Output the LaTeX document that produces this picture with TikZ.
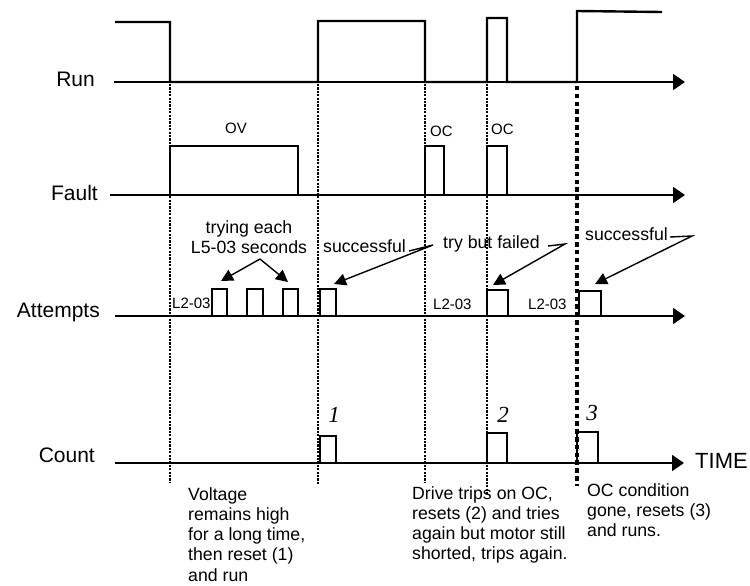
\documentclass[tikz,border=0pt]{standalone}
\usepackage{fontspec}
\setmainfont{Liberation Sans}
\newfontfamily\numfont{Liberation Serif}
\usetikzlibrary{arrows.meta}
\tikzset{
  sig/.style={line width=2.4pt, line join=miter},
  axisline/.style={line width=1.9pt, -{Triangle[length=12pt,width=16pt]}},
  guide/.style={line width=2.4pt, dash pattern=on 2.2pt off 1.2pt},
  guidethick/.style={line width=4.8pt, dash pattern=on 4.5pt off 3.3pt},
  note/.style={line width=1.4pt, line join=miter, -{Triangle[length=12pt,width=12pt]}},
  lbl/.style={font=\fontsize{21}{21}\selectfont, inner sep=0pt},
  tag/.style={font=\fontsize{15}{15}\selectfont, inner sep=0pt},
  txt/.style={font=\fontsize{17.7}{20.3}\selectfont, inner sep=0pt, align=left},
  num/.style={font=\numfont\itshape\fontsize{23}{23}\selectfont, inner sep=0pt},
}
\begin{document}
\begin{tikzpicture}[x=1pt,y=-1pt]
\useasboundingbox (0,0) rectangle (750,586);

% ---- labels
\node[lbl, anchor=base east] (runL) at (95,87) {Run};
\node[lbl, anchor=base east] (faultL) at (98,200) {Fault};
\node[lbl, anchor=base east] (attL) at (100,317) {Attempts};
\node[lbl, anchor=base east] (countL) at (95,462) {Count};

% ---- axes
\coordinate (runS) at (114,82);   \coordinate (runE) at (685,82);
\coordinate (faultS) at (110,195); \coordinate (faultE) at (685,195);
\coordinate (attS) at (115,316);  \coordinate (attE) at (685,316);
\coordinate (cntS) at (115,463);  \coordinate (cntE) at (684,463);
\draw[axisline] (runS) -- (runE);
\draw[axisline] (faultS) -- (faultE);
\draw[axisline] (attS) -- (attE);
\draw[axisline] (cntS) -- (cntE);
\node[lbl, font=\fontsize{22}{22}\selectfont, anchor=base west] (timeL) at (695,468) {TIME};

% ---- guide lines
\coordinate (g1t) at (170,84); \coordinate (g1b) at (170,483);
\coordinate (g2t) at (318,84); \coordinate (g2b) at (318,485);
\coordinate (g3t) at (425,84); \coordinate (g3b) at (425,483);
\coordinate (g4t) at (487,84); \coordinate (g4b) at (487,495);
\coordinate (g5t) at (577,86); \coordinate (g5b) at (577,486);
\draw[guide] (g1t) -- (g1b);
\draw[guide] (g2t) -- (g2b);
\draw[guide] (g3t) -- (g3b);
\draw[guide] (g4t) -- (g4b);
\draw[guidethick] (g5t) -- (g5b);

% ---- Run signal
\draw[sig] (115,22) -- (170,22) -- (170,82) -- (318,82) -- (318,21) -- (425,21)
  -- (425,82) -- (487,82) -- (487,18) -- (507,18) -- (507,82) -- (577,82)
  -- (577,11) -- (662,12);

% ---- Fault signal
\draw[sig] (170,195) -- (170,146) -- (298,146) -- (298,195) -- (425,195)
  -- (425,146) -- (444,146) -- (444,195) -- (487,195) -- (487,146)
  -- (507,146) -- (507,195) -- (560,195);
\node[tag, anchor=base] (ovL) at (236,133) {OV};
\node[tag, anchor=base west] (oc1L) at (430,136) {OC};
\node[tag, anchor=base west] (oc2L) at (491,134) {OC};

% ---- Attempts signal
\draw[sig] (170,316) -- (212,316) -- (212,289) -- (227,289) -- (227,316)
  -- (247,316) -- (247,289) -- (263,289) -- (263,316)
  -- (283,316) -- (283,289) -- (298,289) -- (298,316)
  -- (320,316) -- (320,289) -- (336,289) -- (336,316)
  -- (487,316) -- (487,290) -- (508,290) -- (508,316)
  -- (579,316) -- (579,291) -- (601,291) -- (601,316) -- (640,316);
\node[tag, anchor=base west] (l2a) at (172,308) {L2-03};
\node[tag, anchor=base west] (l2b) at (433,309) {L2-03};
\node[tag, anchor=base west] (l2c) at (528,309) {L2-03};

% ---- Count signal
\draw[sig] (170,463) -- (320,463) -- (320,436) -- (336,436) -- (336,463)
  -- (487,463) -- (487,433) -- (507,433) -- (507,463)
  -- (577,463) -- (577,432) -- (598,432) -- (598,463) -- (640,463);
\node[num, anchor=base] (n1) at (334,422) {1};
\node[num, anchor=base] (n2) at (503,422) {2};
\node[num, anchor=base] (n3) at (592,420) {3};

% ---- annotations on attempts
\node[txt, align=center, anchor=base] (tryL) at (249,233) {trying each};
\node[txt, align=center, anchor=base] (tryL2) at (249,253) {L5-03 seconds};
\coordinate (apex) at (260,259);
\coordinate (tipA) at (221,281);
\coordinate (tipB) at (288,282);
\draw[note] (apex) -- (tipA);
\draw[note] (apex) -- (tipB);

\node[txt, anchor=base west] (succ1) at (323,252) {successful};
\coordinate (s1a) at (409,251); \coordinate (s1b) at (433,245); \coordinate (s1t) at (334,284);
\draw[note] (s1a) -- (s1b) -- (s1t);

\node[txt, anchor=base west] (fail) at (443,248) {try but failed};
\coordinate (f1a) at (548,246); \coordinate (f1b) at (565,244); \coordinate (f1t) at (493,285);
\draw[note] (f1a) -- (f1b) -- (f1t);

\node[txt, anchor=base west] (succ2) at (585,240) {successful};
\coordinate (s2a) at (670,237); \coordinate (s2b) at (692,236); \coordinate (s2t) at (595,284);
\draw[note] (s2a) -- (s2b) -- (s2t);

% ---- bottom descriptions
\node[txt, anchor=north west] (descA) at (188,487)
  {Voltage\\remains high\\for a long time,\\then reset (1)\\and run};
\node[txt, anchor=north west] (descB) at (412,486)
  {Drive trips on OC,\\resets (2) and tries\\again but motor still\\shorted, trips again.};
\node[txt, anchor=north west] (descC) at (587,483)
  {OC condition\\gone, resets (3)\\and runs.};
\end{tikzpicture}
\end{document}
